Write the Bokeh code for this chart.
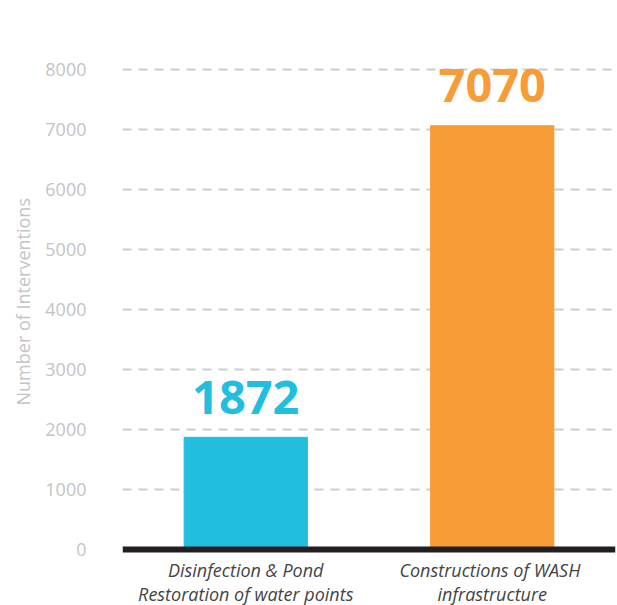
from bokeh.plotting import figure
from bokeh.models import ColumnDataSource, FixedTicker, Range1d, Span, Title
from bokeh.core.properties import value
from bokeh.embed import file_html
from bokeh.resources import INLINE

categories = ["Disinfection & Pond\nRestoration of water points", "Constructions of  WASH\ninfrastructure"]
values = [1872, 7070]
colors = ["#22bee0", "#f79c36"]
labels = [str(v) for v in values]
y_ticks = [0, 1000, 2000, 3000, 4000, 5000, 6000, 7000, 8000]
y_title = "Number of Interventions"

src = ColumnDataSource(dict(cat=categories, val=values, color=colors, label=labels,
                            base=[0] * len(values)))

p = figure(x_range=categories, y_range=Range1d(-934, 8492), width=617, height=605,
           output_backend="svg", toolbar_location=None,
           min_border_left=122, min_border_right=2, min_border_top=40, min_border_bottom=0)
p.outline_line_color = None
p.background_fill_color = "white"

p.vbar(x="cat", top="val", bottom="base", width=0.5, color="color", source=src)
p.add_layout(Span(location=0, dimension="width", line_color="#231f20", line_width=6))

p.text(x="cat", y="val", text="label", text_color="color", source=src,
       text_font=value("Open Sans"), text_font_style="bold", text_font_size="47px",
       text_align="center", text_baseline="alphabetic", y_offset=-40)

p.text(x="cat", y="base", text="cat", text_color="#444444", source=src,
       text_font=value("Open Sans"), text_font_style="italic", text_font_size="18px",
       text_align="center", text_baseline="top", text_line_height=1.0, y_offset=8)

p.xgrid.grid_line_color = None
p.ygrid.grid_line_color = "#cccccc"
p.ygrid.grid_line_width = 2
p.ygrid.grid_line_dash = "9 7"
p.ygrid.ticker = FixedTicker(ticks=y_ticks[1:])

p.xaxis.visible = False

ya = p.yaxis[0]
ya.ticker = FixedTicker(ticks=y_ticks)
ya.axis_line_color = None
ya.major_tick_line_color = None
ya.minor_tick_line_color = None
ya.major_label_text_color = "#c4c4c4"
ya.major_label_text_font = "Open Sans"
ya.major_label_text_font_size = "18px"
ya.major_label_standoff = 30

t = Title(text=y_title, align="left", offset=200, standoff=16,
          text_color="#c4c4c4", text_font="Open Sans", text_font_style="normal",
          text_font_size="18px")
p.add_layout(t, "left")

open("out.html", "w").write(file_html(p, INLINE))
